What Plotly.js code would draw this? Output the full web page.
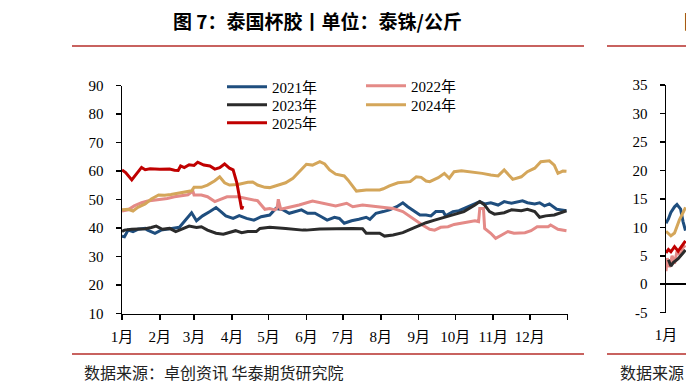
<!DOCTYPE html>
<html><head><meta charset="utf-8">
<script src="https://cdn.plot.ly/plotly-3.0.1.min.js"></script>
<style>html,body{margin:0;padding:0;background:#fff}#chart{width:686px;height:389px}</style>
</head><body><div id="chart"></div>
<script>
// ---------- data ----------
const chartTitle = '图 7：泰国杯胶丨单位：泰铢/公斤';
const sourceText = '数据来源：卓创资讯 华泰期货研究院';
const seriesNames = ['2021年','2022年','2023年','2024年','2025年'];
const seriesColors = ['#1F4E7E','#E48A87','#2B2B2B','#D4A65A','#C00000'];
const monthTicks = ['01-01','02-01','03-01','04-01','05-01','06-01','07-01','08-01','09-01','10-01','11-01','12-01'];
const monthLabels = ['1月','2月','3月','4月','5月','6月','7月','8月','9月','10月','11月','12月'];

const d21 = ['01-01','01-03','01-06','01-10','01-14','01-20','01-22','01-28','02-02','02-07','02-13','02-17','02-21','02-27','03-03','03-08','03-14','03-19','03-23','03-27','04-02','04-07','04-13','04-19','04-25','05-02','05-07','05-13','05-18','05-24','05-28','06-02','06-08','06-14','06-18','06-24','06-28','07-02','07-08','07-14','07-20','07-23','07-28','08-03','08-08','08-14','08-19','08-23','08-27','09-02','09-07','09-11','09-15','09-21','09-23','09-29','10-04','10-11','10-17','10-21','10-25','10-30','11-05','11-10','11-16','11-21','11-25','11-29','12-05','12-09','12-13','12-17','12-23','12-27','12-31'];
const v21 = [37.2,37.0,39.3,38.8,39.6,39.9,39.3,38.2,39.3,39.6,40.2,40.3,42.3,45.4,42.6,44.3,45.8,47.2,45.8,44.3,43.4,44.4,43.4,42.8,44.0,44.6,46.9,46.4,45.2,45.8,46.4,45.2,45.2,43.8,42.8,43.8,43.4,41.7,42.6,43.1,43.8,43.1,45.2,45.8,46.4,47.5,48.9,47.5,46.4,44.6,44.6,44.3,45.8,45.8,44.3,45.8,46.1,47.5,48.7,49.3,48.5,48.9,48.1,49.3,48.7,49.3,49.6,48.9,48.5,48.9,47.8,48.5,46.6,46.4,46.1];

const d22 = ['01-01','01-06','01-11','01-17','01-22','01-28','02-02','02-07','02-13','02-18','02-24','02-28','03-01','03-07','03-12','03-18','03-23','03-28','04-06','04-14','04-22','04-28','05-02','05-06','05-08','05-09','05-11','05-18','05-26','06-06','06-14','06-25','07-04','07-09','07-17','07-23','07-31','08-11','08-19','08-27','09-04','09-10','09-14','09-19','09-25','09-30','10-08','10-17','10-20','10-21','10-24','10-25','10-30','11-03','11-08','11-13','11-18','11-27','12-02','12-07','12-16','12-18','12-24','12-31'];
const v22 = [46.0,46.4,47.8,48.9,49.5,49.9,50.0,50.4,51.0,51.4,51.7,53.0,51.6,51.6,51.0,49.3,50.2,51.0,51.0,50.4,49.6,46.6,46.9,46.4,47.0,50.1,46.6,47.3,48.1,49.5,48.7,47.8,48.7,47.5,48.1,47.8,47.5,46.9,45.8,43.4,41.1,39.6,39.3,40.3,40.5,41.3,41.9,42.6,42.3,46.9,46.9,39.9,38.2,36.4,37.6,38.8,38.2,38.4,39.1,40.5,40.5,41.1,39.6,39.1];

const d23 = ['01-01','01-03','01-09','01-14','01-20','01-25','01-29','02-03','02-09','02-14','02-20','02-25','03-03','03-07','03-12','03-19','03-25','03-30','04-04','04-09','04-14','04-21','04-24','05-02','05-10','05-15','05-29','06-01','06-12','06-25','07-09','07-17','07-20','07-31','08-04','08-11','08-19','08-27','09-02','09-07','09-14','09-22','09-30','10-08','10-17','10-21','10-25','10-29','11-02','11-10','11-16','11-24','11-29','12-05','12-09','12-14','12-21','12-27','12-31'];
const v23 = [38.8,39.3,39.6,39.6,39.8,40.2,40.7,39.6,39.9,38.8,39.9,40.7,40.2,40.5,39.3,38.2,37.9,38.4,39.1,38.4,38.8,38.8,39.9,40.3,39.9,39.9,39.3,39.3,39.7,39.9,39.9,39.8,38.2,38.2,37.2,37.6,38.4,39.9,41.1,41.9,42.8,43.8,44.6,45.8,48.1,49.3,48.1,45.8,44.9,45.4,46.4,46.1,46.6,45.8,43.8,44.3,44.6,45.4,46.1];

const d24 = ['01-01','01-06','01-10','01-14','01-20','01-25','01-31','02-05','02-10','02-16','02-21','02-27','03-01','03-07','03-12','03-18','03-22','03-26','03-30','04-06','04-14','04-18','04-22','04-28','05-02','05-10','05-15','05-21','05-26','06-01','06-06','06-12','06-16','06-20','06-25','07-02','07-05','07-12','07-20','07-31','08-03','08-08','08-15','08-25','08-30','09-03','09-07','09-10','09-17','09-22','09-26','09-30','10-06','10-17','10-23','10-30','11-05','11-10','11-17','11-24','11-29','12-05','12-10','12-17','12-21','12-24','12-28','12-31'];
const v24 = [46.4,46.6,46.0,47.3,48.5,50.2,51.6,51.5,51.8,52.2,52.8,53.1,54.3,54.3,55.1,56.6,58.0,55.9,55.1,55.3,56.1,56.2,55.1,54.3,54.2,55.1,55.9,57.5,59.8,62.4,62.1,63.3,62.5,60.4,58.9,58.3,56.9,53.0,53.4,53.4,53.8,54.8,55.9,56.3,58.0,57.8,56.5,56.3,57.7,59.2,57.5,59.8,60.1,59.6,59.2,58.6,58.3,60.4,57.1,58.0,59.8,61.0,63.3,63.6,62.1,59.2,60.0,59.9];

const d25 = ['01-01','01-04','01-09','01-13','01-17','01-20','01-24','02-01','02-09','02-13','02-16','02-18','02-21','02-25','03-01','03-04','03-09','03-14','03-18','03-22','03-26','03-30','04-02','04-05','04-08','04-09','04-10'];
const v25 = [60.4,59.5,56.9,59.0,61.3,60.5,60.8,60.6,60.7,60.3,60.2,61.8,61.2,62.2,62.0,63.1,62.1,61.8,60.7,61.2,62.5,61.0,60.4,56.0,48.8,46.6,47.8];

// partially visible neighbouring chart (right edge)
const rD21 = ['01-01','01-03','01-05','01-08','01-10','01-13','01-15','01-17'];
const rV21 = [10.7,11.5,12.6,13.6,14.0,13.2,11.0,9.4];
const rD22 = ['01-01','01-02','01-04','01-06','01-08','01-10','01-13','01-15','01-17'];
const rV22 = [2.3,4.6,3.0,5.0,3.6,5.8,5.0,6.5,6.8];
const rD23 = ['01-03','01-05','01-07','01-11','01-15','01-17'];
const rV23 = [4.3,3.2,3.8,4.5,5.5,6.0];
const rD24 = ['01-01','01-05','01-08','01-12','01-16','01-17'];
const rV24 = [9.3,8.5,9.0,11.3,13.0,13.5];
const rD25 = ['01-01','01-03','01-05','01-08','01-11','01-14','01-17'];
const rV25 = [5.5,6.1,5.7,6.6,5.8,6.8,7.6];
const rYTicks = [-5,0,5,10,15,20,25,30,35];

// ---------- build ----------
const W = 686, H = 389;
const fx = p => p / W, fy = p => 1 - p / H;
const Y = '2021-';
const toD = arr => arr.map(s => Y + s);
const serifFont = 'Liberation Serif, "Noto Sans CJK SC", serif';
const cjkFont = '"Noto Sans CJK SC", sans-serif';

const mainX = [d21, d22, d23, d24, d25];
const mainV = [v21, v22, v23, v24, v25];
const rightX = [rD21, rD22, rD23, rD24, rD25];
const rightV = [rV21, rV22, rV23, rV24, rV25];
const legendIds = ['legend', 'legend2', 'legend3', 'legend4', 'legend5'];

const traces = [];
for (let i = 0; i < 5; i++) {
  traces.push({
    type: 'scatter', mode: 'lines', name: seriesNames[i],
    x: toD(mainX[i]), y: mainV[i],
    line: {color: seriesColors[i], width: 3},
    xaxis: 'x', yaxis: 'y', legend: legendIds[i]
  });
}
for (let i = 0; i < 5; i++) {
  traces.push({
    type: 'scatter', mode: 'lines', name: seriesNames[i],
    x: toD(rightX[i]), y: rightV[i],
    line: {color: seriesColors[i], width: 3},
    xaxis: 'x2', yaxis: 'y2', showlegend: false
  });
}

const tickFont = {family: serifFont, size: 15, color: '#000'};
const legendPos = [[222, 70.5], [361, 69.5], [222, 88.5], [361, 88.5], [222, 106.5]];
const legends = {};
legendIds.forEach((id, i) => {
  legends[id] = {
    x: fx(legendPos[i][0]), y: fy(legendPos[i][1]), xanchor: 'left', yanchor: 'top',
    xref: 'paper', yref: 'paper',
    bgcolor: 'rgba(0,0,0,0)', borderwidth: 0, itemwidth: 40,
    font: {family: serifFont, size: 15, color: '#000'}
  };
});

const redLine = '#C8625F';
const layout = Object.assign({
  width: W, height: H,
  margin: {l: 0, r: 0, t: 0, b: 0},
  paper_bgcolor: '#fff', plot_bgcolor: '#fff',
  xaxis: {
    domain: [fx(122), fx(567.7)], anchor: 'y', type: 'date',
    range: [Y + '01-01', '2022-01-01'],
    tickvals: toD(monthTicks).concat(['2022-01-01']),
    ticktext: monthLabels.concat(['']),
    ticks: 'outside', ticklen: 5, tickwidth: 1.5, tickcolor: '#000',
    showline: true, linecolor: '#000', linewidth: 1.5,
    showgrid: false, zeroline: false, tickfont: tickFont, ticklabelstandoff: 4
  },
  yaxis: {
    domain: [fy(313.7), fy(85.5)], anchor: 'x',
    range: [10, 90], tick0: 10, dtick: 10,
    ticks: 'outside', ticklen: 5, tickwidth: 1.5, tickcolor: '#000',
    showline: true, linecolor: '#000', linewidth: 1.5,
    showgrid: false, zeroline: false, tickfont: tickFont, ticklabelstandoff: 9
  },
  xaxis2: {
    domain: [fx(666), 1], anchor: 'y2', type: 'date',
    range: [Y + '01-01', Y + '01-17 10:00'],
    tickvals: [Y + '01-01'], ticktext: ['1月'],
    ticks: '', showline: false, showgrid: false, zeroline: false,
    tickfont: tickFont, ticklabelstandoff: 11
  },
  yaxis2: {
    domain: [fy(312.7), fy(85)], anchor: 'x2',
    range: [-5, 35], tickvals: rYTicks, ticktext: rYTicks.map(String),
    ticks: 'outside', ticklen: 5, tickwidth: 1.5, tickcolor: '#000',
    showline: true, linecolor: '#000', linewidth: 1.5,
    showgrid: false, zeroline: true, zerolinecolor: '#000', zerolinewidth: 1.5,
    tickfont: tickFont, ticklabelstandoff: 9
  },
  shapes: [
    {type: 'line', xref: 'paper', yref: 'paper', x0: fx(72), x1: fx(584), y0: fy(46), y1: fy(46), line: {color: redLine, width: 2}},
    {type: 'line', xref: 'paper', yref: 'paper', x0: fx(607), x1: 1, y0: fy(46), y1: fy(46), line: {color: redLine, width: 2}},
    {type: 'line', xref: 'paper', yref: 'paper', x0: fx(72), x1: fx(584), y0: fy(354), y1: fy(354), line: {color: redLine, width: 2}},
    {type: 'line', xref: 'paper', yref: 'paper', x0: fx(607), x1: 1, y0: fy(354), y1: fy(354), line: {color: redLine, width: 2}}
  ],
  annotations: [
    {xref: 'paper', yref: 'paper', x: fx(171), y: fy(21), xanchor: 'left', yanchor: 'middle', showarrow: false,
     text: chartTitle, font: {family: cjkFont, size: 19, weight: 'bold', color: '#000'}},
    {xref: 'paper', yref: 'paper', x: fx(82), y: fy(372), xanchor: 'left', yanchor: 'middle', showarrow: false,
     text: sourceText, font: {family: cjkFont, size: 16, color: '#222'}},
    {xref: 'paper', yref: 'paper', x: fx(618), y: fy(372), xanchor: 'left', yanchor: 'middle', showarrow: false,
     text: sourceText, font: {family: cjkFont, size: 16, color: '#222'}},
    {xref: 'paper', yref: 'paper', x: fx(682), y: fy(21), xanchor: 'left', yanchor: 'middle', showarrow: false,
     text: '图 8：泰国烟片', font: {family: cjkFont, size: 19, weight: 'bold', color: '#000'}}
  ]
}, legends);

Plotly.newPlot('chart', traces, layout, {displayModeBar: false, staticPlot: true});
</script>
</body></html>
